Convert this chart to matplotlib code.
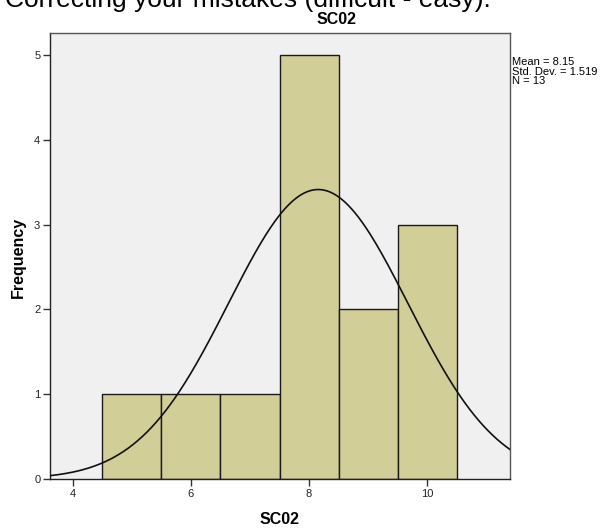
import numpy as np
import matplotlib
matplotlib.use("Agg")
import matplotlib.pyplot as plt

plt.rcParams['font.family'] = ['Liberation Sans', 'DejaVu Sans']

# SC02 scores (13 respondents)
scores = [5, 6, 7, 8, 8, 8, 8, 8, 9, 9, 10, 10, 10]
bin_edges = [4.5, 5.5, 6.5, 7.5, 8.5, 9.5, 10.5]
x_ticks = [4, 6, 8, 10]
y_ticks = [0, 1, 2, 3, 4, 5]

mean = np.mean(scores)
sd = np.std(scores, ddof=1)
n = len(scores)

W, H = 609, 529
fig = plt.figure(figsize=(W / 100, H / 100), dpi=100)
fig.patch.set_facecolor('white')

left, right, top, bottom = 50, 510, 33, 479
ax = fig.add_axes([left / W, 1 - bottom / H, (right - left) / W, (bottom - top) / H])
ax.set_facecolor('#F0F0F0')

ax.hist(scores, bins=bin_edges, color='#D2CE98', edgecolor='#1a1a1a', linewidth=1.0, zorder=2)

# Fitted normal curve scaled to counts
xs = np.linspace(3.615, 11.4, 400)
bw = bin_edges[1] - bin_edges[0]
ys = n * bw / (sd * np.sqrt(2 * np.pi)) * np.exp(-0.5 * ((xs - mean) / sd) ** 2)
ax.plot(xs, ys, color='#111111', linewidth=1.2, zorder=3)

ax.set_xlim(3.615, 11.4)
ax.set_ylim(0, 5.26)
ax.set_xticks(x_ticks)
ax.set_yticks(y_ticks)
ax.tick_params(axis='both', labelsize=8, length=5, width=1, color='#333333', labelcolor='#222222', pad=2)
ax.tick_params(top=False, right=False)
for s in ax.spines.values():
    s.set_color('#555555')
    s.set_linewidth(1.0)
ax.spines['bottom'].set_color('#222222')
ax.spines['left'].set_color('#222222')

fig.text(280 / W, 1 - 519 / H, 'SC02', ha='center', va='center', fontsize=11.5, fontweight='bold')
fig.text(18 / W, 1 - 257 / H, 'Frequency', ha='center', va='center', rotation=90, fontsize=11.5, fontweight='bold')
fig.text(337 / W, 1 - 20 / H, 'SC02', ha='center', va='center', fontsize=11.5, fontweight='bold')

stats = f"Mean = {mean:.2f}\nStd. Dev. = {sd:.3f}\nN = {n}"
fig.text(512 / W, 1 - 57 / H, stats, ha='left', va='top', fontsize=8, linespacing=0.95)

fig.text(5 / W, 1 - 7 / H, 'Correcting your mistakes (difficult - easy):', ha='left', va='baseline', fontsize=19)

fig.savefig('out.png', dpi=100)
